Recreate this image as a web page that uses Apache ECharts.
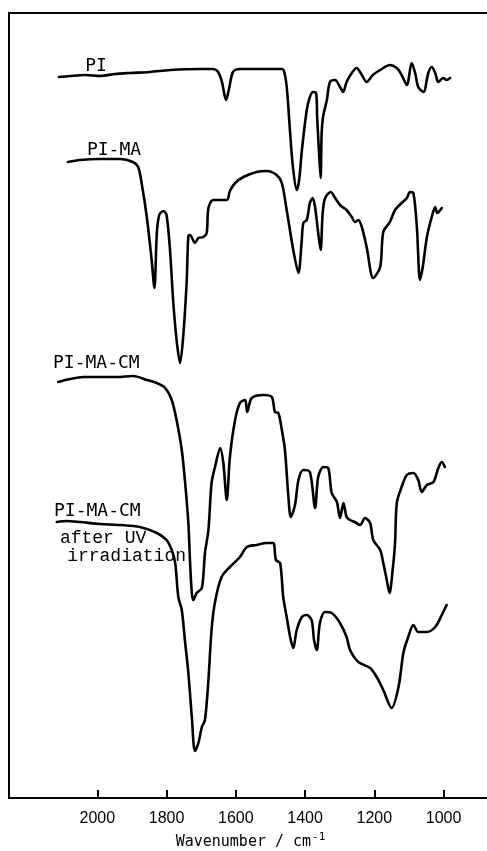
<!DOCTYPE html>
<html>
<head>
<meta charset="utf-8">
<script src="https://cdn.jsdelivr.net/npm/echarts@6/dist/echarts.min.js"></script>
<style>
  html, body { margin: 0; padding: 0; background: #fff; }
  #chart { width: 487px; height: 851px; }
</style>
</head>
<body>
<div id="chart"></div>
<script>
// IR spectra, offset vertically (arbitrary transmittance units), wavenumber in cm^-1
const wavenumberTicks = [2000, 1800, 1600, 1400, 1200, 1000];

const spectrumPI = [
  [2111,721],[2079,722],[2035,723],[1992,722],[1949,724],[1905,725],[1848,726],[1790,728],
  [1703,729],[1666,729],[1651,726],[1640,716],[1628,698],[1619,710],[1608,726],[1588,729],
  [1530,729],[1466,729],[1458,723],[1452,708],[1443,665],[1435,631],[1424,608],[1417,618],
  [1409,648],[1395,688],[1386,701],[1377,706],[1368,705],[1365,681],[1360,648],[1355,620],
  [1352,665],[1348,681],[1337,698],[1328,716],[1313,718],[1299,711],[1290,706],[1280,716],
  [1265,725],[1251,730],[1236,723],[1222,716],[1204,723],[1183,728],[1155,733],[1135,730],
  [1121,723],[1106,713],[1092,735],[1082,725],[1073,711],[1058,706],[1044,725],[1034,731],
  [1024,725],[1015,716],[1001,720],[991,718],[981,720]
];

const spectrumPIMA = [
  [2085,636],[2050,638],[1992,639],[1934,639],[1897,636],[1882,631],[1872,615],[1857,581],
  [1843,538],[1835,510],[1828,565],[1821,583],[1809,587],[1800,583],[1790,548],[1781,498],
  [1771,458],[1761,435],[1752,461],[1742,515],[1737,562],[1732,563],[1718,555],[1708,560],
  [1694,561],[1684,565],[1679,590],[1665,598],[1626,598],[1617,607],[1602,615],[1578,621],
  [1540,626],[1511,627],[1482,623],[1467,615],[1453,588],[1434,548],[1419,525],[1410,555],
  [1405,575],[1395,578],[1386,595],[1378,600],[1371,591],[1362,565],[1355,548],[1349,585],
  [1342,600],[1326,606],[1313,600],[1299,593],[1280,588],[1265,581],[1256,576],[1246,578],
  [1236,571],[1222,551],[1203,520],[1183,531],[1174,566],[1155,576],[1140,588],[1121,595],
  [1106,600],[1097,606],[1087,605],[1077,571],[1068,518],[1060,531],[1048,561],[1034,581],
  [1024,591],[1018,585],[1005,590]
];

const spectrumPIMACM = [
  [2113,416],[2079,419],[2040,421],[1992,421],[1944,421],[1896,422],[1857,418],[1828,415],
  [1804,410],[1785,398],[1771,378],[1756,348],[1747,318],[1737,275],[1732,235],[1727,205],
  [1723,198],[1713,205],[1698,210],[1689,245],[1679,268],[1670,315],[1660,331],[1645,350],
  [1636,335],[1626,298],[1617,341],[1602,378],[1588,395],[1573,398],[1567,386],[1554,400],
  [1520,403],[1496,401],[1487,386],[1477,385],[1467,368],[1458,348],[1448,301],[1441,281],
  [1429,293],[1419,318],[1405,328],[1386,326],[1371,290],[1362,321],[1347,331],[1333,330],
  [1323,305],[1308,296],[1299,280],[1289,295],[1280,281],[1270,278],[1256,276],[1241,273],
  [1227,280],[1212,275],[1203,258],[1183,248],[1174,235],[1164,218],[1156,205],[1147,228],
  [1140,255],[1135,295],[1121,311],[1106,323],[1087,325],[1073,318],[1063,306],[1048,313],
  [1029,316],[1015,330],[1005,336],[996,331]
];

const spectrumPIMACMUV = [
  [2117,276],[2088,277],[2050,276],[1992,274],[1934,273],[1877,271],[1828,265],[1800,258],
  [1785,248],[1775,235],[1766,201],[1756,188],[1747,158],[1737,125],[1727,81],[1718,47],
  [1708,55],[1698,71],[1689,78],[1679,118],[1670,168],[1660,196],[1641,221],[1617,231],
  [1588,241],[1568,251],[1540,253],[1511,255],[1492,255],[1484,238],[1472,235],[1463,201],
  [1453,181],[1443,161],[1434,150],[1424,168],[1409,181],[1395,183],[1381,178],[1374,158],
  [1366,148],[1357,175],[1342,186],[1323,185],[1299,175],[1280,161],[1270,148],[1246,136],
  [1212,130],[1193,121],[1174,108],[1150,90],[1130,111],[1116,145],[1102,161],[1087,173],
  [1073,166],[1048,166],[1024,171],[1005,183],[991,193]
];

const seriesNames = ['PI', 'PI-MA', 'PI-MA-CM', 'PI-MA-CM after UV irradiation'];
const seriesData = [spectrumPI, spectrumPIMA, spectrumPIMACM, spectrumPIMACMUV];

// Trace labels, anchored in data coordinates (left edge, text baseline)
const traceLabels = [
  { text: 'PI',          at: [2035, 723], font: 'DejaVu Sans Mono', size: 18 },
  { text: 'PI-MA',       at: [2030, 639], font: 'DejaVu Sans Mono', size: 18 },
  { text: 'PI-MA-CM',    at: [2128, 426], font: 'DejaVu Sans Mono', size: 18 },
  { text: 'PI-MA-CM',    at: [2125, 278], font: 'DejaVu Sans Mono', size: 18 },
  { text: 'after UV',    at: [2108, 251], font: 'Liberation Mono', size: 18 },
  { text: 'irradiation', at: [2087, 233], font: 'Liberation Mono', size: 18 }
];

const chart = echarts.init(document.getElementById('chart'), null, { renderer: 'canvas' });

chart.setOption({
  animation: false,
  backgroundColor: '#fff',
  grid: {
    left: 9, right: -5, top: 13, bottom: 53,
    containLabel: false,
    outerBoundsMode: 'none',
    show: true, borderColor: '#000', borderWidth: 2, backgroundColor: 'transparent'
  },
  xAxis: {
    type: 'value',
    inverse: true,
    min: 860,
    max: 2255,
    name: '{a|Wavenumber / cm}{b|-1}',
    nameLocation: 'middle',
    nameGap: 25,
    nameTextStyle: {
      rich: {
        a: { fontFamily: 'DejaVu Sans Mono', fontSize: 15, color: '#000', lineHeight: 18, verticalAlign: 'bottom' },
        b: { fontFamily: 'DejaVu Sans Mono', fontSize: 11, color: '#000', lineHeight: 12, padding: [0, 0, 9, 1], verticalAlign: 'top' }
      }
    },
    axisLine: { show: true, lineStyle: { color: '#000', width: 2 } },
    axisTick: {
      show: true, inside: true, length: 8,
      customValues: wavenumberTicks,
      lineStyle: { color: '#000', width: 2 }
    },
    axisLabel: {
      show: true, margin: 13,
      customValues: wavenumberTicks,
      formatter: v => String(v),
      fontFamily: 'Liberation Sans', fontSize: 16, color: '#000'
    },
    splitLine: { show: false }
  },
  yAxis: {
    type: 'value',
    show: false,
    min: 0,
    max: 785
  },
  series: seriesData.map((data, i) => ({
    name: seriesNames[i],
    type: 'line',
    data: data,
    smooth: 0.3,
    showSymbol: false,
    lineStyle: { color: '#000', width: 2.6, join: 'round', cap: 'round' },
    emphasis: { disabled: true }
  }))
});

// Place the trace labels after the axes are laid out
chart.setOption({
  graphic: traceLabels.map(l => {
    const p = chart.convertToPixel({ gridIndex: 0 }, l.at);
    return {
      type: 'text',
      x: p[0],
      y: p[1],
      style: {
        text: l.text,
        fill: '#000',
        font: l.size + 'px "' + l.font + '"',
        textAlign: 'left',
        textVerticalAlign: 'bottom'
      }
    };
  })
});
</script>
</body>
</html>
